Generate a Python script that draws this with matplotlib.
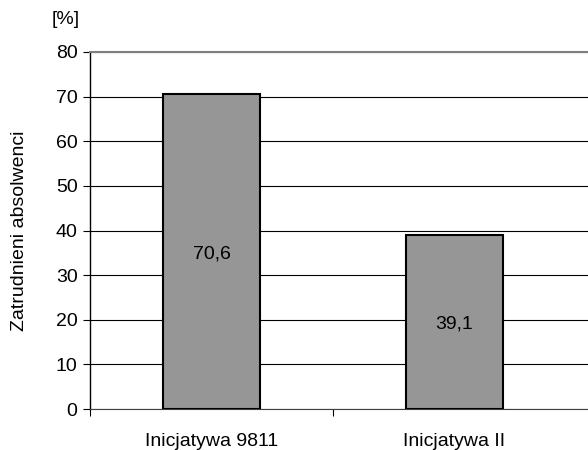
import numpy as np
import matplotlib
matplotlib.use('Agg')
import matplotlib.pyplot as plt

plt.rcParams['font.family'] = ['Liberation Sans', 'DejaVu Sans']
plt.rcParams['font.size'] = 14

categories = ['Inicjatywa 9811', 'Inicjatywa II']
values = [70.6, 39.1]
value_labels = ['70,6', '39,1']

fig = plt.figure(figsize=(5.88, 4.5), dpi=100)
ax = fig.add_axes([90 / 588, 1 - 409 / 450, 1 - 90 / 588, (409 - 52) / 450])

x = np.arange(len(categories))
ax.bar(x, values, width=0.40, color='#969696', edgecolor='black', linewidth=1.5, zorder=3)

for xi, v, lab in zip(x, values, value_labels):
    ax.text(xi, v / 2 - 0.6, lab, ha='center', va='center', zorder=4)

ax.set_ylim(0, 80)
ax.set_xlim(-0.5, 1.55)
ax.set_yticks(np.arange(0, 81, 10))
ax.yaxis.grid(True, color='black', linewidth=0.8, zorder=0)

# category boundary ticks, labels in the middle
ax.set_xticks([-0.5, 0.5])
ax.set_xticklabels([])
ax.set_xticks(x, minor=True)
ax.set_xticklabels(categories, minor=True)
ax.tick_params(axis='x', which='major', length=5, direction='out', width=0.8)
ax.tick_params(axis='x', which='minor', length=0, pad=17)
ax.tick_params(axis='y', length=5, direction='out', width=0.8, pad=4)

ax.spines['right'].set_visible(False)
ax.spines['top'].set_color('#808080')
ax.spines['top'].set_linewidth(1.5)
ax.spines['bottom'].set_color('#404040')
ax.spines['left'].set_linewidth(1.0)

ax.set_ylabel('Zatrudnieni absolwenci', labelpad=20)
fig.text(52 / 588, 1 - 20 / 450, '[%]', ha='left', va='center')

fig.savefig('out.png', dpi=100)
